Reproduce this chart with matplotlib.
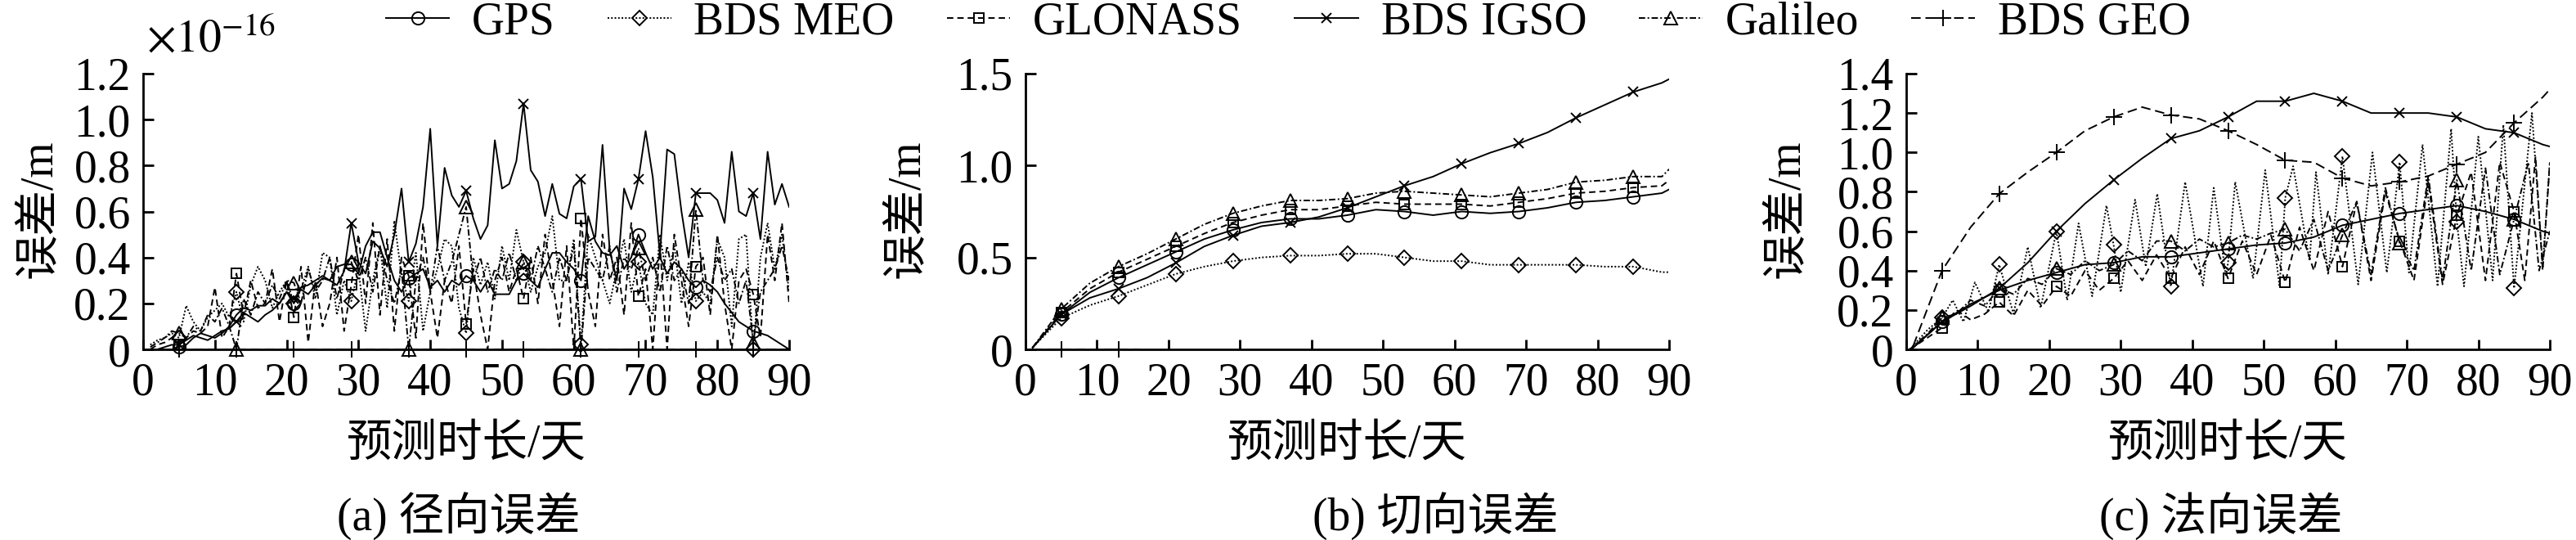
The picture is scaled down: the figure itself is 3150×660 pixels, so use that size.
import numpy as np
import matplotlib
matplotlib.use('Agg')
import matplotlib.pyplot as plt
from matplotlib.lines import Line2D

plt.rcParams['font.family'] = ['Liberation Serif', 'Noto Sans CJK SC']
plt.rcParams['mathtext.fontset'] = 'stix'

# ---------------- data ----------------
systems = ['GPS', 'BDS MEO', 'GLONASS', 'BDS IGSO', 'Galileo', 'BDS GEO']
marker_days = [5, 13, 21, 29, 37, 45, 53, 61, 69, 77, 85]

# (a) radial error, unit 1e-16 m, daily
days_a = list(range(1, 91))
radial_gps = [0.00, 0.00, 0.00, 0.00, 0.01, 0.02, 0.05, 0.07, 0.06, 0.05,
              0.07, 0.10, 0.15, 0.18, 0.17, 0.19, 0.19, 0.22, 0.20, 0.25,
              0.20, 0.27, 0.28, 0.30, 0.32, 0.30, 0.36, 0.37, 0.37, 0.33,
              0.45, 0.51, 0.51, 0.40, 0.30, 0.25, 0.31, 0.33, 0.35, 0.27,
              0.30, 0.25, 0.30, 0.28, 0.32, 0.30, 0.25, 0.30, 0.24, 0.24,
              0.24, 0.30, 0.33, 0.30, 0.27, 0.35, 0.42, 0.42, 0.38, 0.35,
              0.30, 0.58, 0.47, 0.42, 0.41, 0.45, 0.35, 0.40, 0.50, 0.42,
              0.35, 0.40, 0.33, 0.38, 0.35, 0.30, 0.27, 0.30, 0.28, 0.25,
              0.20, 0.16, 0.12, 0.10, 0.08, 0.07, 0.06, 0.04, 0.02, 0.00]
radial_meo = [0.02, 0.04, 0.05, 0.07, 0.05, 0.19, 0.12, 0.08, 0.14, 0.17,
              0.20, 0.14, 0.25, 0.12, 0.28, 0.36, 0.30, 0.18, 0.25, 0.30,
              0.20, 0.26, 0.36, 0.22, 0.42, 0.40, 0.15, 0.30, 0.21, 0.35,
              0.08, 0.30, 0.45, 0.18, 0.56, 0.32, 0.21, 0.42, 0.08, 0.25,
              0.35, 0.48, 0.45, 0.18, 0.07, 0.40, 0.28, 0.38, 0.22, 0.45,
              0.30, 0.52, 0.38, 0.25, 0.36, 0.42, 0.58, 0.30, 0.30, 0.48,
              0.02, 0.50, 0.40, 0.30, 0.20, 0.35, 0.48, 0.25, 0.38, 0.20,
              0.15, 0.50, 0.30, 0.45, 0.20, 0.38, 0.21, 0.25, 0.20, 0.48,
              0.40, 0.10, 0.48, 0.50, 0.00, 0.40, 0.55, 0.35, 0.50, 0.25]
radial_glonass = [0.00, 0.02, 0.03, 0.05, 0.02, 0.05, 0.08, 0.07, 0.10, 0.27,
                  0.05, 0.10, 0.33, 0.15, 0.30, 0.18, 0.20, 0.35, 0.12, 0.30,
                  0.14, 0.36, 0.03, 0.30, 0.10, 0.20, 0.40, 0.08, 0.28, 0.50,
                  0.20, 0.55, 0.15, 0.48, 0.08, 0.40, 0.32, 0.05, 0.55, 0.25,
                  0.05, 0.30, 0.20, 0.45, 0.11, 0.35, 0.15, 0.00, 0.30, 0.40,
                  0.25, 0.35, 0.22, 0.40, 0.20, 0.50, 0.30, 0.10, 0.45, 0.00,
                  0.57, 0.25, 0.10, 0.50, 0.30, 0.40, 0.15, 0.55, 0.23, 0.35,
                  0.00, 0.45, 0.00, 0.50, 0.30, 0.10, 0.36, 0.40, 0.15, 0.50,
                  0.20, 0.00, 0.30, 0.35, 0.24, 0.05, 0.50, 0.30, 0.55, 0.20]
radial_igso = [0.00, 0.00, 0.01, 0.02, 0.02, 0.04, 0.06, 0.05, 0.04, 0.06,
               0.08, 0.09, 0.12, 0.16, 0.14, 0.12, 0.15, 0.17, 0.20, 0.25,
               0.22, 0.26, 0.24, 0.28, 0.31, 0.30, 0.28, 0.34, 0.55, 0.38,
               0.33, 0.47, 0.44, 0.36, 0.50, 0.70, 0.38, 0.46, 0.62, 0.96,
               0.45, 0.79, 0.67, 0.62, 0.69, 0.57, 0.48, 0.54, 0.91, 0.70,
               0.72, 0.82, 1.07, 0.78, 0.73, 0.58, 0.72, 0.59, 0.57, 0.71,
               0.74, 0.47, 0.49, 0.89, 0.43, 0.30, 0.70, 0.61, 0.74, 0.95,
               0.75, 0.41, 0.87, 0.85, 0.60, 0.40, 0.68, 0.68, 0.68, 0.65,
               0.55, 0.86, 0.60, 0.58, 0.68, 0.48, 0.86, 0.63, 0.72, 0.62]
radial_galileo = [0.01, 0.03, 0.05, 0.08, 0.07, 0.05, 0.10, 0.08, 0.15, 0.12,
                  0.18, 0.10, 0.00, 0.22, 0.15, 0.25, 0.20, 0.28, 0.22, 0.30,
                  0.29, 0.20, 0.35, 0.25, 0.30, 0.40, 0.22, 0.35, 0.38, 0.30,
                  0.40, 0.25, 0.45, 0.30, 0.20, 0.35, 0.00, 0.30, 0.40, 0.25,
                  0.45, 0.30, 0.38, 0.50, 0.62, 0.30, 0.40, 0.25, 0.35, 0.30,
                  0.42, 0.30, 0.38, 0.30, 0.45, 0.35, 0.25, 0.40, 0.30, 0.45,
                  0.00, 0.40, 0.35, 0.30, 0.45, 0.25, 0.40, 0.35, 0.44, 0.30,
                  0.40, 0.25, 0.45, 0.30, 0.35, 0.20, 0.61, 0.30, 0.25, 0.40,
                  0.30, 0.35, 0.20, 0.30, 0.03, 0.25, 0.30, 0.35, 0.45, 0.30]
radial_geo = [0.0] * 90

# (b) along-track error, m
days_b = [1, 5, 9, 13, 17, 21, 25, 29, 33, 37, 41, 45, 49, 53, 57, 61, 65, 69,
          73, 77, 81, 85, 89, 90]
along_gps = [0.01, 0.19, 0.31, 0.39, 0.46, 0.53, 0.60, 0.65, 0.69, 0.71, 0.71, 0.73,
             0.76, 0.75, 0.73, 0.75, 0.74, 0.75, 0.77, 0.80, 0.81, 0.83, 0.85, 0.87]
along_meo = [0.01, 0.17, 0.24, 0.29, 0.35, 0.41, 0.45, 0.48, 0.50, 0.51, 0.51, 0.52,
             0.52, 0.50, 0.48, 0.48, 0.46, 0.46, 0.46, 0.46, 0.45, 0.45, 0.42, 0.42]
along_glonass = [0.01, 0.20, 0.33, 0.42, 0.49, 0.56, 0.63, 0.69, 0.73, 0.76, 0.76, 0.78,
                 0.80, 0.79, 0.79, 0.79, 0.78, 0.80, 0.82, 0.85, 0.86, 0.88, 0.89, 0.92]
along_igso = [0.01, 0.19, 0.28, 0.33, 0.39, 0.47, 0.56, 0.62, 0.67, 0.69, 0.72, 0.77,
              0.83, 0.89, 0.94, 1.01, 1.07, 1.12, 1.18, 1.26, 1.33, 1.40, 1.45, 1.47]
along_galileo = [0.01, 0.22, 0.36, 0.45, 0.52, 0.60, 0.68, 0.74, 0.78, 0.81, 0.81, 0.82,
                 0.85, 0.86, 0.85, 0.84, 0.83, 0.85, 0.87, 0.91, 0.92, 0.94, 0.94, 0.98]
days_b_geo = [1, 5, 9, 13, 16]
along_geo = [0.0, 0.0, 0.0, 0.0, 0.0]

# (c) cross-track error, m
days_c = days_b
cross_gps = [0.01, 0.14, 0.23, 0.30, 0.35, 0.39, 0.43, 0.44, 0.47, 0.47, 0.49, 0.51,
             0.53, 0.54, 0.57, 0.63, 0.66, 0.69, 0.71, 0.73, 0.70, 0.66, 0.60, 0.59]
cross_igso = [0.01, 0.14, 0.22, 0.31, 0.44, 0.60, 0.74, 0.86, 0.97, 1.07, 1.11, 1.18,
              1.26, 1.26, 1.30, 1.26, 1.20, 1.20, 1.20, 1.18, 1.12, 1.10, 1.04, 1.03]
cross_geo = [0.02, 0.40, 0.62, 0.79, 0.90, 1.00, 1.11, 1.18, 1.23, 1.19, 1.17, 1.11,
             1.04, 0.96, 0.95, 0.87, 0.83, 0.85, 0.88, 0.94, 1.00, 1.15, 1.28, 1.32]
days_c_meo = [0.5, 3, 5, 6.5, 8, 9.6, 11.5, 13, 15, 17, 18.8, 21, 22.5, 24.1, 26, 28, 29,
              30, 32, 33.5, 35.1, 37, 39, 41.5, 43, 44.7, 45, 46, 48.5, 50.2, 52.2, 53,
              54.1, 56.4, 57.3, 59, 61, 63.2, 65.2, 67.2, 69, 70.3, 72.2, 74.3, 76.2, 77,
              78, 80, 82, 83.5, 85, 87.5, 89, 90]
cross_meo = [0.00, 0.10, 0.16, 0.25, 0.14, 0.34, 0.19, 0.43, 0.18, 0.52, 0.21, 0.60,
             0.25, 0.64, 0.27, 0.73, 0.53, 0.29, 0.76, 0.42, 0.79, 0.32, 0.85, 0.32,
             0.82, 0.37, 0.44, 0.85, 0.36, 0.91, 0.32, 0.77, 0.93, 0.45, 0.90, 0.38,
             0.98, 0.33, 1.00, 0.39, 0.95, 0.39, 1.04, 0.32, 1.12, 0.65, 0.32, 1.08,
             0.35, 1.14, 0.31, 1.20, 0.42, 0.95]
days_c_glonass = [0.5, 3, 5, 7, 9, 11, 13, 15, 17, 19, 21, 23, 25, 27, 29, 31, 33, 35,
                  37, 39, 41, 43, 45, 47, 49, 51, 53, 55, 57, 59, 61, 63, 65, 67, 69,
                  71, 73, 75, 77, 79, 81, 83, 85, 86.5, 88, 89, 90]
cross_glonass = [0.00, 0.06, 0.11, 0.20, 0.15, 0.18, 0.24, 0.17, 0.30, 0.22, 0.32, 0.27,
                 0.40, 0.30, 0.36, 0.45, 0.35, 0.48, 0.36, 0.52, 0.38, 0.55, 0.36, 0.55,
                 0.38, 0.58, 0.34, 0.62, 0.40, 0.70, 0.42, 0.75, 0.35, 0.80, 0.55, 0.35,
                 0.85, 0.33, 0.68, 0.90, 0.35, 0.95, 0.70, 0.35, 0.98, 0.40, 0.95]
days_c_galileo = [0.5, 3, 5, 7, 9, 11, 13, 15, 17, 19, 21, 23, 25, 27, 29, 31, 33, 35,
                  37, 39, 41, 43, 45, 47, 49, 51, 53, 55, 57, 59, 61, 63, 65, 67, 69,
                  71, 73, 75, 77, 79, 81, 83, 85, 87, 88.5, 90]
cross_galileo = [0.00, 0.08, 0.16, 0.18, 0.25, 0.22, 0.31, 0.28, 0.36, 0.33, 0.41, 0.38,
                 0.45, 0.40, 0.43, 0.50, 0.45, 0.55, 0.55, 0.50, 0.56, 0.52, 0.54, 0.58,
                 0.56, 0.59, 0.61, 0.50, 0.66, 0.40, 0.58, 0.75, 0.38, 0.82, 0.54, 0.40,
                 0.88, 0.35, 0.86, 0.40, 0.92, 0.38, 0.66, 0.95, 0.40, 0.60]

panel_titles = ['(a) 径向误差', '(b) 切向误差', '(c) 法向误差']
x_label = '预测时长/天'
y_label = '误差/m'
x_ticks = [0, 10, 20, 30, 40, 50, 60, 70, 80, 90]
y_ticks_a = [0, 0.2, 0.4, 0.6, 0.8, 1.0, 1.2]
y_ticks_b = [0, 0.5, 1.0, 1.5]
y_ticks_c = [0, 0.2, 0.4, 0.6, 0.8, 1.0, 1.2, 1.4]
y_ticklabels_a = ['0', '0.2', '0.4', '0.6', '0.8', '1.0', '1.2']
y_ticklabels_b = ['0', '0.5', '1.0', '1.5']
y_ticklabels_c = ['0', '0.2', '0.4', '0.6', '0.8', '1.0', '1.2', '1.4']

# ---------------- styles ----------------
styles = {
    'GPS':      dict(ls='-', marker='o', ms=11),
    'BDS MEO':  dict(ls=(0, (1, 1.2)), marker='D', ms=9),
    'GLONASS':  dict(ls=(0, (4, 2.5)), marker='s', ms=9),
    'BDS IGSO': dict(ls='-', marker='x', ms=9),
    'Galileo':  dict(ls=(0, (4, 1.5, 1, 1.5)), marker='^', ms=12),
    'BDS GEO':  dict(ls=(0, (6, 3)), marker='+', ms=14),
}
LW = 1.4
FS = 40

W, H = 3150, 660
fig = plt.figure(figsize=(W / 100, H / 100), dpi=100)

axes_px = [(175, 965), (1254, 2041), (2331, 3118)]
top_px, bot_px = 90, 427


def make_ax(i):
    l, r = axes_px[i]
    ax = fig.add_axes([l / W, 1 - bot_px / H, (r - l) / W, (bot_px - top_px) / H])
    for s in ['top', 'right']:
        ax.spines[s].set_visible(False)
    for s in ['left', 'bottom']:
        ax.spines[s].set_linewidth(2.0)
    ax.tick_params(direction='in', length=9, width=2.0, labelsize=FS, pad=11)
    ax.set_xlim(0, 90)
    ax.set_xticks(x_ticks)
    ax.set_xticklabels([str(t) for t in x_ticks])
    return ax


def draw(ax, name, days, vals, clip=True):
    st = styles[name]
    ax.plot(days, vals, color='k', lw=LW, ls=st['ls'], clip_on=clip, zorder=3)
    mk = [d for d in marker_days if days[0] <= d <= days[-1]]
    my = np.interp(mk, days, vals)
    ax.plot(mk, my, ls='none', marker=st['marker'], ms=st['ms'], mfc='none',
            mec='k', mew=1.4, clip_on=False, zorder=4)


# panel a
ax_a = make_ax(0)
draw(ax_a, 'GPS', days_a, radial_gps)
draw(ax_a, 'BDS MEO', days_a, radial_meo)
draw(ax_a, 'GLONASS', days_a, radial_glonass)
draw(ax_a, 'BDS IGSO', days_a, radial_igso)
draw(ax_a, 'Galileo', days_a, radial_galileo)
draw(ax_a, 'BDS GEO', days_a, radial_geo, clip=False)
ax_a.set_ylim(0, 1.2)
ax_a.set_yticks(y_ticks_a)
ax_a.set_yticklabels(y_ticklabels_a)
ax_a.text(0.005, 1.045, r'$\times10^{-16}$', transform=ax_a.transAxes,
          fontsize=FS, ha='left', va='bottom')

# panel b
ax_b = make_ax(1)
draw(ax_b, 'GPS', days_b, along_gps)
draw(ax_b, 'BDS MEO', days_b, along_meo)
draw(ax_b, 'GLONASS', days_b, along_glonass)
draw(ax_b, 'BDS IGSO', days_b, along_igso)
draw(ax_b, 'Galileo', days_b, along_galileo)
draw(ax_b, 'BDS GEO', days_b_geo, along_geo, clip=False)
ax_b.set_ylim(0, 1.5)
ax_b.set_yticks(y_ticks_b)
ax_b.set_yticklabels(y_ticklabels_b)

# panel c
ax_c = make_ax(2)
draw(ax_c, 'GPS', days_c, cross_gps)
draw(ax_c, 'BDS MEO', days_c_meo, cross_meo)
draw(ax_c, 'GLONASS', days_c_glonass, cross_glonass)
draw(ax_c, 'BDS IGSO', days_c, cross_igso)
draw(ax_c, 'Galileo', days_c_galileo, cross_galileo)
draw(ax_c, 'BDS GEO', days_c, cross_geo)
ax_c.set_ylim(0, 1.4)
ax_c.set_yticks(y_ticks_c)
ax_c.set_yticklabels(y_ticklabels_c)

# labels
ylab_x = [49, 1110, 2186]
title_x = [561, 1755, 2716]
for i, ax in enumerate([ax_a, ax_b, ax_c]):
    l, r = axes_px[i]
    ax.set_xlabel(x_label, fontsize=FS, va='center')
    ax.xaxis.set_label_coords(0.5, (bot_px - 544) / (bot_px - top_px))
    ax.set_ylabel(y_label, fontsize=FS, va='center')
    ax.yaxis.set_label_coords((ylab_x[i] - l) / (r - l), 0.51)
    fig.text(title_x[i] / W, 1 - 631 / H, panel_titles[i], fontsize=FS,
             ha='center', va='center')

# legend
handles = [Line2D([], [], color='k', lw=LW, ls=styles[n]['ls'], marker=styles[n]['marker'],
                  ms=styles[n]['ms'], mfc='none', mec='k', mew=1.4) for n in systems]
fig.legend(handles, systems, loc='center', bbox_to_anchor=(0.5, 1 - 27 / H), ncol=6,
           frameon=False, fontsize=FS, handlelength=1.4, handletextpad=0.5,
           columnspacing=1.15, borderaxespad=0, borderpad=0)

fig.savefig('out.png', dpi=100)
